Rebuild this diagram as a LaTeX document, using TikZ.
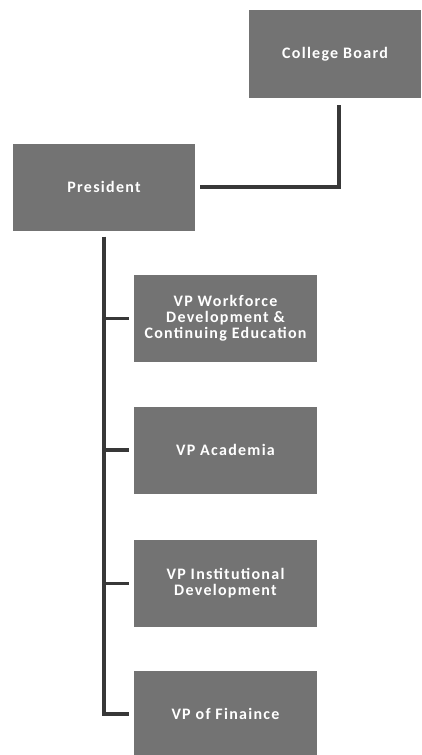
\documentclass[tikz,border=0pt]{standalone}
\usepackage{fontspec}
\newfontfamily\boxfont[LetterSpace=8]{Carlito}
\tikzset{
  box/.style={draw=none, fill=black!55, minimum width=183pt, minimum height=87pt,
    text=white, font=\boxfont\bfseries\fontsize{16}{16}\selectfont, align=center, inner sep=0pt},
  conn/.style={draw=black!78, line width=3.6pt, line join=miter}
}
\begin{document}
\begin{tikzpicture}[x=1pt,y=-1pt]
\useasboundingbox (0,0) rectangle (421,755);
\node[box, minimum width=172pt, minimum height=88pt] (cb) at (335,54) {College Board};
\node[box, minimum width=182pt] (pres) at (104,187) {President};
\node[box] (vp1) at (225.5,318.5) {VP Workforce\\Development \&\\Continuing Education};
\node[box] (vp2) at (225.5,450) {VP Academia};
\node[box] (vp3) at (225.5,583.5) {VP Institutional\\Development};
\node[box] (vp4) at (225.5,714) {VP of Finaince};
\draw[conn] ([xshift=5pt]pres.east) -| ([xshift=4pt,yshift=-7pt]cb.south);
\draw[conn] ([yshift=-6pt]pres.south) -- (pres.south |- vp4) -- ([xshift=-5pt]vp4.west);
\draw[conn] (pres.south |- vp1) -- ([xshift=-5pt]vp1.west);
\draw[conn] (pres.south |- vp2) -- ([xshift=-5pt]vp2.west);
\draw[conn] (pres.south |- vp3) -- ([xshift=-5pt]vp3.west);
\end{tikzpicture}
\end{document}
